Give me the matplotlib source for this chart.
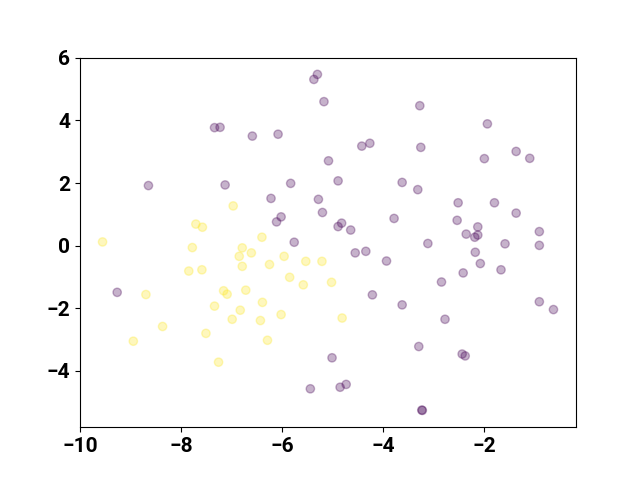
import numpy as np
import matplotlib
matplotlib.use("Agg")
import matplotlib.pyplot as plt

plt.rcParams['font.family'] = ['Roboto', 'DejaVu Sans']

# class 0 (purple)
x0 = [-5.30, -5.37, -5.17, -7.34, -7.23, -6.59, -6.08, -5.08, -8.65, -7.13,
      -5.83, -6.22, -5.28, -5.20, -6.02, -6.11, -5.76, -3.27, -1.93, -4.42,
      -4.26, -3.25, -1.99, -1.36, -1.09, -4.89, -3.62, -3.31, -2.51, -1.79,
      -1.36, -3.78, -2.53, -4.89, -4.82, -4.64, -2.12, -2.35, -2.18, -2.12,
      -3.11, -1.58, -0.90, -0.90, -4.55, -4.34, -3.93, -2.17, -2.07, -1.66,
      -2.41, -2.84, -4.21, -3.62, -2.77, -0.90, -0.62, -3.29, -2.43, -2.37,
      -5.01, -4.85, -4.73, -3.23, -3.22, -9.27, -5.44]
y0 = [5.47, 5.31, 4.60, 3.77, 3.78, 3.50, 3.56, 2.71, 1.92, 1.94,
      1.99, 1.51, 1.48, 1.06, 0.92, 0.76, 0.11, 4.47, 3.89, 3.18,
      3.27, 3.14, 2.78, 3.01, 2.79, 2.07, 2.02, 1.79, 1.37, 1.37,
      1.04, 0.87, 0.81, 0.61, 0.72, 0.50, 0.60, 0.37, 0.27, 0.34,
      0.07, 0.06, 0.45, 0.01, -0.23, -0.18, -0.49, -0.21, -0.57, -0.77,
      -0.87, -1.16, -1.57, -1.89, -2.35, -1.79, -2.04, -3.22, -3.46, -3.52,
      -3.58, -4.52, -4.43, -5.25, -5.26, -1.49, -4.57]

# class 1 (yellow)
x1 = [-6.97, -7.71, -7.58, -9.56, -6.40, -7.78, -6.79, -6.85, -6.61, -6.79,
      -6.25, -5.96, -5.53, -5.21, -7.85, -7.59, -5.85, -5.58, -5.02, -8.70,
      -7.16, -7.09, -6.72, -7.34, -6.39, -6.83, -6.99, -6.43, -6.02, -8.37,
      -7.51, -8.95, -6.29, -7.26, -4.81]
y1 = [1.27, 0.69, 0.59, 0.12, 0.27, -0.06, -0.07, -0.34, -0.23, -0.66,
      -0.60, -0.34, -0.50, -0.50, -0.81, -0.77, -1.01, -1.25, -1.17, -1.56,
      -1.44, -1.55, -1.42, -1.93, -1.81, -2.06, -2.35, -2.39, -2.20, -2.58,
      -2.80, -3.05, -3.02, -3.72, -2.31]

x = np.array(x0 + x1)
y = np.array(y0 + y1)
labels = np.array([0] * len(x0) + [1] * len(x1))

fig, ax = plt.subplots(figsize=(6.4, 4.8), dpi=100)
ax.scatter(x, y, c=labels, cmap='viridis', alpha=0.3)
ax.set_yticks([-4, -2, 0, 2, 4, 6])
plt.xticks(fontsize=15, fontweight='bold')
plt.yticks(fontsize=15, fontweight='bold')
plt.savefig('out.png')
